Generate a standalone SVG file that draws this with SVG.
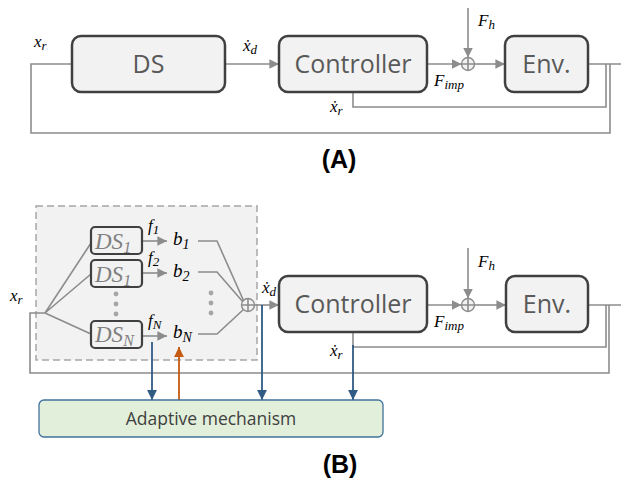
<svg xmlns="http://www.w3.org/2000/svg" width="621" height="482" viewBox="0 0 621 482">
  <style>
    .blk { fill: #f2f2f2; stroke: #404040; stroke-width: 2.5; }
    .blk-t { font-family: "Open Sans", "Liberation Sans", sans-serif; font-size: 25px; fill: #595959; text-anchor: middle; }
    .ds { fill: #f2f2f2; stroke: #404040; stroke-width: 2.2; }
    .ds-t { font-family: "Liberation Serif", "DejaVu Serif", serif; font-style: italic; font-size: 23px; fill: #808080; }
    .math { font-family: "Liberation Serif", "DejaVu Serif", serif; font-style: italic; font-size: 17px; fill: #000; }
    .sub { font-size: 13px; }
    .bl { font-size: 19px; }
    .bsub { font-size: 14px; }
    .wire { fill: none; stroke: #8c8c8c; stroke-width: 1.6; }
    .blue { fill: none; stroke: #2f5b85; stroke-width: 1.8; }
    .orange { fill: none; stroke: #c55a11; stroke-width: 1.8; }
    .sum { fill: #f2f2f2; stroke: #8c8c8c; stroke-width: 1.4; }
    .title { font-family: "Liberation Sans", Arial, sans-serif; font-weight: bold; font-size: 25px; fill: #000; text-anchor: middle; }
    .dot { fill: #a6a6a6; }
  </style>
  <defs>
    <marker id="ag" viewBox="0 0 10 10" refX="10" refY="5" markerWidth="6" markerHeight="6" orient="auto" markerUnits="strokeWidth">
      <path d="M0,0 L10,5 L0,10 z" fill="#8c8c8c"/>
    </marker>
    <marker id="ab" viewBox="0 0 10 10" refX="10" refY="5" markerWidth="5.5" markerHeight="5.5" orient="auto" markerUnits="strokeWidth">
      <path d="M0,0 L10,5 L0,10 z" fill="#2f5b85"/>
    </marker>
    <marker id="ao" viewBox="0 0 10 10" refX="10" refY="5" markerWidth="5.5" markerHeight="5.5" orient="auto" markerUnits="strokeWidth">
      <path d="M0,0 L10,5 L0,10 z" fill="#c55a11"/>
    </marker>
  </defs>

  <!-- ===== (A) basic loop ===== -->
  <g id="a-connectors">
    <path class="wire" d="M610,64 V133 H31 V64 H72"/>
    <path class="wire" d="M225,64 H279" marker-end="url(#ag)"/>
    <path class="wire" d="M427,64 H461.5" marker-end="url(#ag)"/>
    <path class="wire" d="M468,8 V57.5" marker-end="url(#ag)"/>
    <path class="wire" d="M474.5,64 H505" marker-end="url(#ag)"/>
    <path class="wire" d="M588,64 H621"/>
    <path class="wire" d="M606,64 V107 H353 V92"/>
  </g>
  <g id="a-ds">
    <rect class="blk" x="72" y="36" width="153" height="56" rx="9"/>
    <text class="blk-t" x="148.5" y="73">DS</text>
  </g>
  <g id="a-controller">
    <rect class="blk" x="279" y="36" width="148" height="56" rx="9"/>
    <text class="blk-t" x="353" y="73">Controller</text>
  </g>
  <g id="a-sum">
    <circle class="sum" cx="468" cy="64" r="6.5"/>
    <path class="wire" d="M461.5,64 H474.5 M468,57.5 V70.5" stroke-width="1.2"/>
  </g>
  <g id="a-env">
    <rect class="blk" x="505" y="36" width="83" height="56" rx="9"/>
    <text class="blk-t" x="546.5" y="73">Env.</text>
  </g>
  <g id="a-labels">
    <text class="math" x="34" y="47">x<tspan class="sub" dy="3">r</tspan></text>
    <text class="math" x="243" y="51">ẋ<tspan class="sub" dy="3">d</tspan></text>
    <text class="math" x="478" y="26">F<tspan class="sub" dy="3">h</tspan></text>
    <text class="math" x="434" y="86">F<tspan class="sub" dy="3">imp</tspan></text>
    <text class="math" x="330" y="112">ẋ<tspan class="sub" dy="3">r</tspan></text>
    <text class="title" x="339" y="168">(A)</text>
  </g>

  <!-- ===== (B) adaptive loop ===== -->
  <g id="b-ensemble">
    <rect x="36" y="206" width="221" height="154" fill="#f2f2f2" stroke="#a6a6a6" stroke-width="1.5" stroke-dasharray="7,4"/>
  </g>
  <g id="b-connectors">
    <path class="wire" d="M609,305 V373 H30 V313 H45"/>
    <path class="wire" d="M45,313 L91,243 M45,313 L91,274 M45,313 L91,334"/>
    <path class="wire" d="M142,241 H167" marker-end="url(#ag)"/>
    <path class="wire" d="M142,273 H167" marker-end="url(#ag)"/>
    <path class="wire" d="M142,336 H167" marker-end="url(#ag)"/>
    <path class="wire" d="M198,241 H217 L243.5,300.5"/>
    <path class="wire" d="M198,272 H217 L243,302"/>
    <path class="wire" d="M198,334 H217 L243.5,309.5"/>
    <path class="wire" d="M254.5,305 H279" marker-end="url(#ag)"/>
    <path class="wire" d="M427,305 H461.5" marker-end="url(#ag)"/>
    <path class="wire" d="M468,248 V298.5" marker-end="url(#ag)"/>
    <path class="wire" d="M474.5,305 H506" marker-end="url(#ag)"/>
    <path class="wire" d="M588,305 H621"/>
    <path class="wire" d="M606,305 V347 H353 V332"/>
    <path class="blue" d="M152,342 V400" marker-end="url(#ab)"/>
    <path class="blue" d="M262,305 V400" marker-end="url(#ab)"/>
    <path class="blue" d="M353,345 V400" marker-end="url(#ab)"/>
    <path class="orange" d="M179,400 V347" marker-end="url(#ao)"/>
  </g>
  <g id="b-ds1">
    <rect class="ds" x="91" y="227" width="51" height="27" rx="4"/>
    <text class="ds-t" x="95" y="249">DS<tspan font-size="16" dy="4">1</tspan></text>
  </g>
  <g id="b-ds2">
    <rect class="ds" x="91" y="260" width="51" height="27" rx="4"/>
    <text class="ds-t" x="95" y="282">DS<tspan font-size="16" dy="4">1</tspan></text>
  </g>
  <g id="b-dsn">
    <rect class="ds" x="91" y="321" width="51" height="27" rx="4"/>
    <text class="ds-t" x="95" y="342">DS<tspan font-size="16" dy="4">N</tspan></text>
  </g>
  <g id="b-ellipsis">
    <circle class="dot" cx="116" cy="294" r="2.4"/>
    <circle class="dot" cx="116" cy="304" r="2.4"/>
    <circle class="dot" cx="116" cy="314" r="2.4"/>
    <circle class="dot" cx="211" cy="293" r="2.4"/>
    <circle class="dot" cx="211" cy="303" r="2.4"/>
    <circle class="dot" cx="211" cy="313" r="2.4"/>
  </g>
  <g id="b-sum1">
    <circle class="sum" cx="248" cy="305" r="6.5"/>
    <path class="wire" d="M241.5,305 H254.5 M248,298.5 V311.5" stroke-width="1.2"/>
  </g>
  <g id="b-controller">
    <rect class="blk" x="279" y="276" width="148" height="56" rx="9"/>
    <text class="blk-t" x="353" y="313">Controller</text>
  </g>
  <g id="b-sum2">
    <circle class="sum" cx="468" cy="305" r="6.5"/>
    <path class="wire" d="M461.5,305 H474.5 M468,298.5 V311.5" stroke-width="1.2"/>
  </g>
  <g id="b-env">
    <rect class="blk" x="506" y="276" width="82" height="56" rx="9"/>
    <text class="blk-t" x="547" y="313">Env.</text>
  </g>
  <g id="b-adaptive">
    <rect x="39" y="400" width="344" height="37" rx="5" fill="#e2efda" stroke="#41719c" stroke-width="1.3"/>
    <text x="211" y="425" font-family="'Open Sans', 'Liberation Sans', sans-serif" font-size="17.5" fill="#404040" text-anchor="middle">Adaptive mechanism</text>
  </g>
  <g id="b-labels">
    <text class="math" x="148" y="231">f<tspan class="sub" dy="3">1</tspan></text>
    <text class="math" x="148" y="263">f<tspan class="sub" dy="3">2</tspan></text>
    <text class="math" x="148" y="326">f<tspan class="sub" dy="3">N</tspan></text>
    <text class="math bl" x="173" y="245">b<tspan class="bsub" dy="4">1</tspan></text>
    <text class="math bl" x="173" y="277">b<tspan class="bsub" dy="4">2</tspan></text>
    <text class="math bl" x="173" y="338">b<tspan class="bsub" dy="4">N</tspan></text>
    <text class="math" x="10" y="301">x<tspan class="sub" dy="3">r</tspan></text>
    <text class="math" x="262" y="293">ẋ<tspan class="sub" dy="3">d</tspan></text>
    <text class="math" x="478" y="267">F<tspan class="sub" dy="3">h</tspan></text>
    <text class="math" x="434" y="327">F<tspan class="sub" dy="3">imp</tspan></text>
    <text class="math" x="330" y="356">ẋ<tspan class="sub" dy="3">r</tspan></text>
    <text class="title" x="340" y="473">(B)</text>
  </g>
</svg>
